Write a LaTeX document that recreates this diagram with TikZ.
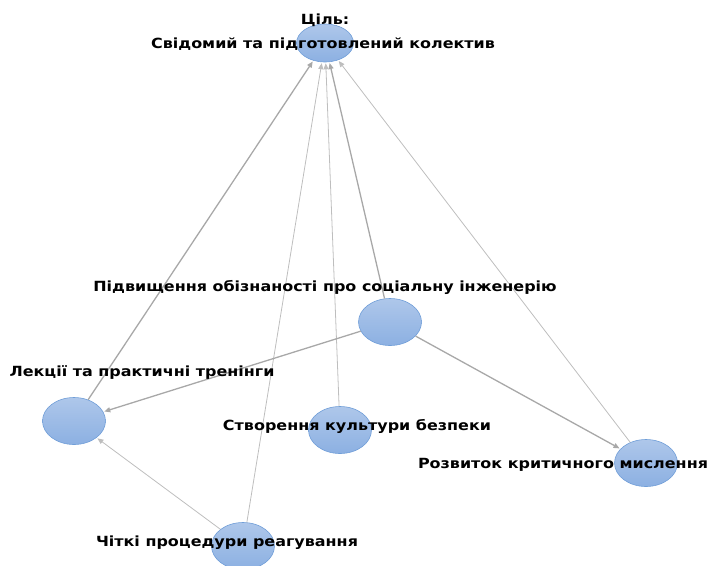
\documentclass[tikz,border=0pt]{standalone}
\usepackage{fontspec}
\setmainfont{DejaVu Sans}[FakeStretch=1.14]
\usetikzlibrary{arrows.meta,shapes.geometric}
\definecolor{ballTop}{RGB}{174,199,234}
\definecolor{ballBottom}{RGB}{140,176,226}
\definecolor{ballLine}{RGB}{112,158,216}
\definecolor{linkGray}{RGB}{168,168,168}
\definecolor{linkLight}{RGB}{190,190,190}
\tikzset{
  ball/.style={ellipse, draw=ballLine, line width=0.6pt, top color=ballTop,
    bottom color=ballBottom, minimum width=63pt, minimum height=47pt, inner sep=0pt},
  tag/.style={font=\bfseries\fontsize{14}{16}\selectfont, inner sep=0pt, align=center},
  link/.style={draw=linkGray, line width=1.3pt, -{Triangle[length=6pt,width=5pt]}},
  thinlink/.style={draw=linkLight, line width=0.8pt, -{Triangle[length=6pt,width=5pt]}}
}
\begin{document}
\begin{tikzpicture}[x=1pt,y=-1pt]
  \useasboundingbox (0,0) rectangle (711,565);
  \draw
    (325,43) node[ball, minimum width=57pt, minimum height=38pt] (goal){}
    (390,322) node[ball] (aware){}
    (74,421) node[ball] (lect){}
    (340,430) node[ball] (cult){}
    (646,463) node[ball] (crit){}
    (243,546) node[ball] (proc){};
  \begin{scope}[shorten >=1pt]
    \draw[link] (lect) to (goal);
    \draw[thinlink] (proc) to (goal);
    \draw[thinlink] (cult) to (goal);
    \draw[link] (aware) to (goal);
    \draw[thinlink] (crit) to (goal);
    \draw[link] (aware) to (lect);
    \draw[link] (aware) to (crit);
    \draw[thinlink] (proc) to (lect);
  \end{scope}
  \draw
    (325,20) node[tag] (goal-head){Ціль:}
    (323,44) node[tag] (goal-text){Свідомий та підготовлений колектив}
    (325,287) node[tag] (aware-text){Підвищення обізнаності про соціальну інженерію}
    (142,373) node[tag] (lect-text){Лекції та практичні тренінги}
    (357,426) node[tag] (cult-text){Створення культури безпеки}
    (563,465) node[tag] (crit-text){Розвиток критичного мислення}
    (227,543) node[tag] (proc-text){Чіткі процедури реагування};
\end{tikzpicture}
\end{document}
